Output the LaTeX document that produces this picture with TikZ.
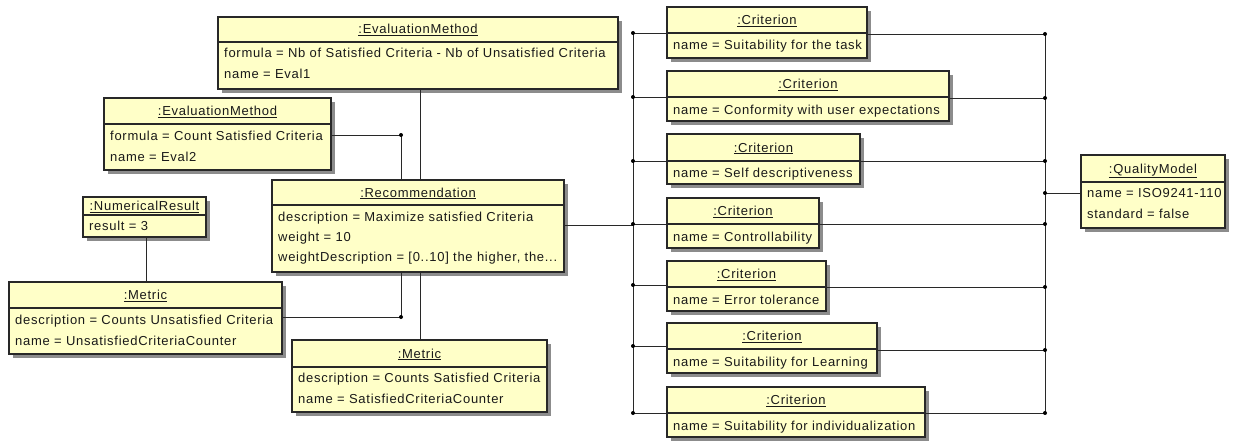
\documentclass[tikz,border=0pt]{standalone}
\usepackage{fontspec}
\setmainfont{Liberation Sans}[LetterSpace=5.5]
\usetikzlibrary{shadows}
\definecolor{objfill}{RGB}{255,255,200}
\definecolor{objline}{RGB}{40,40,40}
\definecolor{shadowgray}{RGB}{140,140,140}
\tikzset{
  obj/.style={draw=objline, line width=1.2pt, fill=objfill, inner sep=0pt, outer sep=0pt,
    drop shadow={shadow xshift=4pt, shadow yshift=-4pt, fill=shadowgray, opacity=1}},
  sepline/.style={draw=objline, line width=1.1pt},
  hdr/.style={anchor=base, inner sep=0pt, font=\fontsize{13}{15}\selectfont, text=black!90},
  attr/.style={anchor=base west, inner sep=0pt, font=\fontsize{13}{15}\selectfont, text=black!90},
  conn/.style={draw=objline, line width=0.9pt},
  jdot/.style={fill=black},
}
% #1 name, #2 L, #3 T, #4 R, #5 B, #6 separator y, #7 header
\newcommand\umlobj[7]{%
  \node[obj, anchor=north west, minimum width={(#4-#2)*1pt}, minimum height={(#5-#3)*1pt}] (#1) at (#2,#3) {};
  \draw[sepline] (#2,#6) -- (#4,#6);
  \node[hdr] (#1-h) at ({(#2+#4)/2},{(#3+#6)/2+4.5}) {\underline{#7}};
}
% #1 node name, #2 x, #3 baseline y, #4 text
\newcommand\umlattr[4]{\node[attr] (#1) at (#2,#3) {#4};}
\begin{document}
\begin{tikzpicture}[x=1pt,y=-1pt]
\useasboundingbox[fill=white] (0,0) rectangle (1233,441);

% ---------- junction coordinates ----------
\coordinate (vx) at (420,0);
\coordinate (nx) at (146,0);
\coordinate (e2j) at (401,135);
\coordinate (m1j) at (401,317);
\coordinate (LR) at (633,225);
\coordinate (LB1) at (633,33);
\coordinate (LB2) at (633,97);
\coordinate (LB3) at (633,161);
\coordinate (LB4) at (633,224);
\coordinate (LB5) at (633,285);
\coordinate (LB6) at (633,346);
\coordinate (LB7) at (633,413);
\coordinate (RB1) at (1045,34);
\coordinate (RB2) at (1045,98);
\coordinate (RB3) at (1045,161);
\coordinate (RQ)  at (1045,193);
\coordinate (RB4) at (1045,224);
\coordinate (RB5) at (1045,287);
\coordinate (RB6) at (1045,350);
\coordinate (RB7) at (1045,413);

% ---------- boxes ----------
\umlobj{eval1}{218}{17}{618}{89}{42}{:EvaluationMethod}
\umlattr{eval1-a1}{224}{58}{formula = Nb of Satisfied Criteria - Nb of Unsatisfied Criteria}
\umlattr{eval1-a2}{224}{79}{name = Eval1}

\umlobj{eval2}{104}{98}{331}{170}{124}{:EvaluationMethod}
\umlattr{eval2-a1}{110}{140}{formula = Count Satisfied Criteria}
\umlattr{eval2-a2}{110}{161}{name = Eval2}

\umlobj{num}{83}{197}{206}{237}{215}{:NumericalResult}
\umlattr{num-a1}{89}{230}{result = 3}

\umlobj{rec}{272}{180}{564}{272}{205}{:Recommendation}
\umlattr{rec-a1}{278}{221}{description = Maximize satisfied Criteria}
\umlattr{rec-a2}{278}{241}{weight = 10}
\umlattr{rec-a3}{278}{261}{weightDescription = [0..10] the higher, the...}

\umlobj{met1}{9}{282}{282}{354}{308}{:Metric}
\umlattr{met1-a1}{15}{324}{description = Counts Unsatisfied Criteria}
\umlattr{met1-a2}{15}{345}{name = UnsatisfiedCriteriaCounter}

\umlobj{met2}{292}{340}{547}{412}{367}{:Metric}
\umlattr{met2-a1}{298}{382}{description = Counts Satisfied Criteria}
\umlattr{met2-a2}{298}{403}{name = SatisfiedCriteriaCounter}

\umlobj{c1}{667}{7}{867}{58}{33}{:Criterion}
\umlattr{c1-a1}{673}{50}{name = Suitability for the task}
\umlobj{c2}{667}{71}{949}{121}{97}{:Criterion}
\umlattr{c2-a1}{673}{114}{name = Conformity with user expectations}
\umlobj{c3}{667}{134}{860}{184}{161}{:Criterion}
\umlattr{c3-a1}{673}{177}{name = Self descriptiveness}
\umlobj{c4}{667}{198}{819}{248}{224}{:Criterion}
\umlattr{c4-a1}{673}{241}{name = Controllability}
\umlobj{c5}{667}{261}{826}{311}{287}{:Criterion}
\umlattr{c5-a1}{673}{304}{name = Error tolerance}
\umlobj{c6}{667}{323}{877}{373}{349}{:Criterion}
\umlattr{c6-a1}{673}{366}{name = Suitability for Learning}
\umlobj{c7}{667}{387}{925}{437}{413}{:Criterion}
\umlattr{c7-a1}{673}{430}{name = Suitability for individualization}

\umlobj{qm}{1081}{155}{1225}{228}{182}{:QualityModel}
\umlattr{qm-a1}{1087}{197}{name = ISO9241-110}
\umlattr{qm-a2}{1087}{218}{standard = false}

% ---------- connectors ----------
\draw[conn] (vx |- eval1.south) -- (vx |- rec.north);
\draw[conn] (vx |- rec.south) -- (vx |- met2.north);
\draw[conn] (eval2.east |- e2j) -- (e2j) -- (e2j |- rec.north);
\draw[conn] (met1.east |- m1j) -- (m1j) -- (m1j |- rec.south);
\draw[conn] (nx |- num.south) -- (nx |- met1.north);
\draw[conn] (rec.east |- LR) -- (LR);
\draw[conn] (LB1) -- (LB7);
\draw[conn] (RB1) -- (RB7);
\draw[conn] (LB1) -- (LB1 -| c1.west);
\draw[conn] (LB2) -- (LB2 -| c2.west);
\draw[conn] (LB3) -- (LB3 -| c3.west);
\draw[conn] (LB4) -- (LB4 -| c4.west);
\draw[conn] (LB5) -- (LB5 -| c5.west);
\draw[conn] (LB6) -- (LB6 -| c6.west);
\draw[conn] (LB7) -- (LB7 -| c7.west);
\draw[conn] (c1.east |- RB1) -- (RB1);
\draw[conn] (c2.east |- RB2) -- (RB2);
\draw[conn] (c3.east |- RB3) -- (RB3);
\draw[conn] (c4.east |- RB4) -- (RB4);
\draw[conn] (c5.east |- RB5) -- (RB5);
\draw[conn] (c6.east |- RB6) -- (RB6);
\draw[conn] (c7.east |- RB7) -- (RB7);
\draw[conn] (RQ) -- (RQ -| qm.west);

\foreach \p in {e2j,m1j,LB1,LB2,LB3,LB4,LB5,LB6,LB7,RB1,RB2,RB3,RQ,RB4,RB5,RB6,RB7}
  \fill[jdot] (\p) circle (2.0);
\end{tikzpicture}
\end{document}
